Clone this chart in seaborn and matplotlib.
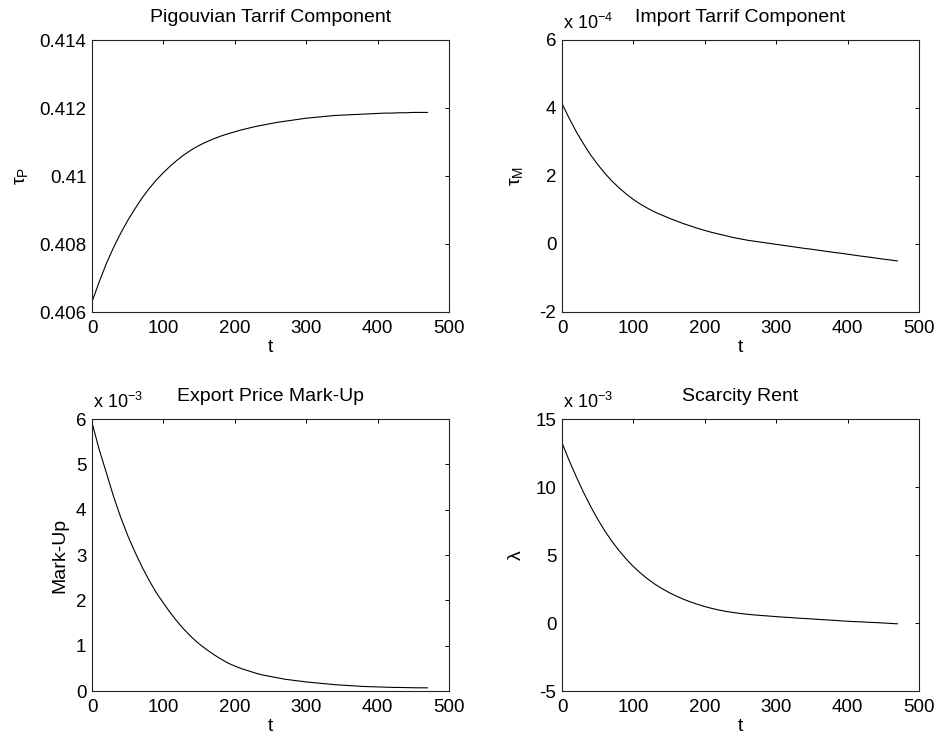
import numpy as np
import pandas as pd
import matplotlib
matplotlib.use('Agg')
import matplotlib.pyplot as plt
import seaborn as sns
from matplotlib.ticker import FuncFormatter

# time grid, every 10 periods up to 470
t = list(range(0, 480, 10))

# Pigouvian tariff component
tau_p = [0.40630, 0.40688, 0.40742, 0.40789, 0.40831, 0.40869, 0.40903, 0.40935,
         0.40963, 0.40988, 0.41010, 0.41030, 0.41048, 0.41064, 0.41078, 0.41090,
         0.41100, 0.41109, 0.41117, 0.41124, 0.41130, 0.41136, 0.41141, 0.41146,
         0.41150, 0.41154, 0.41158, 0.41161, 0.41164, 0.41167, 0.41170, 0.41172,
         0.41174, 0.41176, 0.41178, 0.41179, 0.41180, 0.41181, 0.41182, 0.41183,
         0.41184, 0.41185, 0.41185, 0.41186, 0.41186, 0.41187, 0.41187, 0.41187]

# Import tariff component (x 10^-4)
tau_m = [4.13, 3.70, 3.30, 2.95, 2.62, 2.34, 2.08, 1.85, 1.65, 1.47, 1.31, 1.17,
         1.05, 0.94, 0.85, 0.76, 0.68, 0.60, 0.53, 0.46, 0.40, 0.34, 0.29, 0.24,
         0.19, 0.15, 0.11, 0.08, 0.05, 0.02, -0.01, -0.04, -0.07, -0.10, -0.13, -0.155,
         -0.185, -0.215, -0.245, -0.27, -0.30, -0.33, -0.36, -0.385, -0.415, -0.445,
         -0.47, -0.50]

# Export price mark-up (x 10^-3)
markup = [5.92, 5.33, 4.82, 4.30, 3.84, 3.43, 3.07, 2.74, 2.44, 2.17, 1.94, 1.72,
          1.52, 1.34, 1.18, 1.04, 0.92, 0.81, 0.71, 0.62, 0.55, 0.49, 0.44, 0.39,
          0.35, 0.32, 0.29, 0.26, 0.24, 0.22, 0.20, 0.185, 0.17, 0.155, 0.14, 0.13,
          0.12, 0.11, 0.10, 0.095, 0.09, 0.085, 0.08, 0.078, 0.075, 0.072, 0.07, 0.07]

# Scarcity rent (x 10^-3)
rent = [13.25, 11.95, 10.75, 9.62, 8.58, 7.63, 6.77, 6.00, 5.32, 4.70, 4.15, 3.67,
        3.24, 2.86, 2.53, 2.24, 1.98, 1.75, 1.55, 1.37, 1.21, 1.07, 0.95, 0.85,
        0.77, 0.70, 0.64, 0.59, 0.55, 0.51, 0.47, 0.43, 0.40, 0.36, 0.33, 0.30,
        0.26, 0.23, 0.20, 0.16, 0.13, 0.10, 0.08, 0.05, 0.03, 0.00, -0.03, -0.06]

sns.set_style('white')
plt.rcParams['font.family'] = ['Liberation Sans', 'DejaVu Sans']
plt.rcParams['mathtext.default'] = 'regular'
plt.rcParams['text.color'] = 'black'
plt.rcParams['axes.labelcolor'] = 'black'

fig = plt.figure(figsize=(9.38, 7.4), dpi=100)

W, H = 938, 740
def box(left, top, right, bottom):
    return [left / W, 1 - bottom / H, (right - left) / W, (bottom - top) / H]

panels = [
    dict(y=tau_p, pos=box(92, 40, 449, 312), title='Pigouvian Tarrif Component',
         ylabel=r'$\tau_P$', ylim=(0.406, 0.414), yticks=[0.406, 0.408, 0.41, 0.412, 0.414],
         exp=None, labx=-0.175),
    dict(y=tau_m, pos=box(562, 40, 919, 312), title='Import Tarrif Component',
         ylabel=r'$\tau_M$', ylim=(-2, 6), yticks=[-2, 0, 2, 4, 6], exp='-4', labx=-0.105),
    dict(y=markup, pos=box(92, 419, 449, 691), title='Export Price Mark-Up',
         ylabel='Mark-Up', ylim=(0, 6), yticks=[0, 1, 2, 3, 4, 5, 6], exp='-3', labx=-0.067),
    dict(y=rent, pos=box(562, 419, 919, 691), title='Scarcity Rent',
         ylabel=r'$\lambda$', ylim=(-5, 15), yticks=[-5, 0, 5, 10, 15], exp='-3', labx=-0.105),
]

for p in panels:
    ax = fig.add_axes(p['pos'])
    df = pd.DataFrame({'t': t, 'v': p['y']})
    sns.lineplot(data=df, x='t', y='v', ax=ax, color='black', linewidth=0.8)
    ax.set_xlim(0, 500)
    ax.set_ylim(*p['ylim'])
    ax.set_xticks([0, 100, 200, 300, 400, 500])
    ax.set_yticks(p['yticks'])
    ax.yaxis.set_major_formatter(FuncFormatter(lambda v, pos: f'{v:g}'))
    ax.tick_params(direction='in', length=2.6, width=0.7, top=True, right=True,
                   labelsize=13.5, colors='black')
    ax.tick_params(axis='x', pad=6)
    ax.tick_params(axis='y', pad=4)
    for s in ax.spines.values():
        s.set_color('#222222')
        s.set_linewidth(0.8)
    ax.set_title(p['title'], fontsize=14, pad=13)
    ax.set_xlabel('t', fontsize=14, labelpad=1)
    ax.set_ylabel(p['ylabel'], fontsize=14)
    ax.yaxis.set_label_coords(p['labx'], 0.5)
    if p['exp']:
        ax.text(0.003, 1.025, r'x 10$^{%s}$' % p['exp'], transform=ax.transAxes,
                ha='left', va='bottom', fontsize=13)

fig.savefig('out.png', dpi=100)
